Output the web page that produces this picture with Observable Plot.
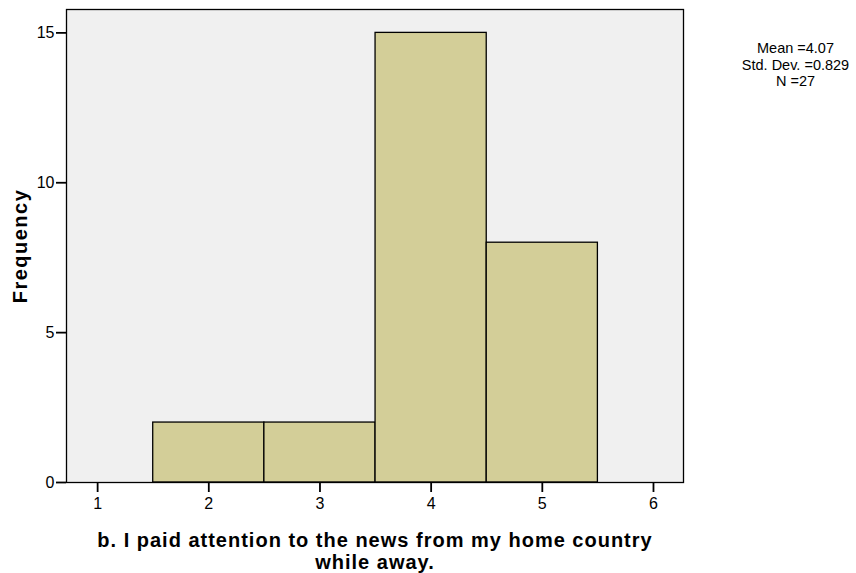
<!DOCTYPE html>
<html>
<head>
<meta charset="utf-8">
<script src="https://cdn.jsdelivr.net/npm/d3@7"></script>
<script src="https://cdn.jsdelivr.net/npm/@observablehq/plot@0.6"></script>
<style>
  html, body { margin: 0; padding: 0; background: #fff; }
  svg { font-family: "Liberation Sans", Arial, sans-serif; }
</style>
</head>
<body>
<div id="chart"></div>
<script>
const binStart = [1.5, 2.5, 3.5, 4.5];
const binEnd = [2.5, 3.5, 4.5, 5.5];
const frequency = [2, 2, 15, 8];
const xTicks = [1, 2, 3, 4, 5, 6];
const yTicks = [0, 5, 10, 15];
const statsText = ["Mean =4.07", "Std. Dev. =0.829", "N =27"];
const xTitle = ["b. I paid attention to the news from my home country", "while away."];
const yTitle = "Frequency";

const bars = binStart.map((s, i) => ({x1: s, x2: binEnd[i], y: frequency[i]}));

const chart = Plot.plot({
  width: 856,
  height: 573,
  marginLeft: 66,
  marginRight: 173,
  marginTop: 9,
  marginBottom: 91,
  style: {fontFamily: "'Liberation Sans', Arial, sans-serif", background: "#fff", fontSize: "15px"},
  x: {domain: [0.72, 6.27]},
  y: {domain: [0, 15.78]},
  marks: [
    Plot.frame({fill: "#f0f0f0"}),
    Plot.rectY(bars, {x1: "x1", x2: "x2", y: "y", fill: "#d3ce98", stroke: "#000", strokeWidth: 1.3}),
    Plot.frame({stroke: "#000", strokeWidth: 1.3}),
    Plot.axisX({ticks: xTicks, tickFormat: d3.format("d"), tickSize: 10, tickPadding: 5, fontSize: 16, stroke: "#000", strokeWidth: 1.8, label: null, fill: "#000", className: "xaxis"}),
    Plot.axisY({ticks: yTicks, tickFormat: d3.format("d"), tickSize: 10, tickPadding: 2, fontSize: 16, stroke: "#000", strokeWidth: 1.8, label: null, fill: "#000", className: "yaxis"}),
    Plot.text([yTitle], {text: d => d, frameAnchor: "left", dx: -46, rotate: -90, textAnchor: "middle", fontSize: 20, fontWeight: "bold", fill: "#000", className: "ytitle"}),
    Plot.text([xTitle.join("\n")], {text: d => d, frameAnchor: "bottom", dy: 86, textAnchor: "middle", fontSize: 20, fontWeight: "bold", lineHeight: 1.1, fill: "#000", className: "xtitle"}),
    Plot.text([statsText.join("\n")], {text: d => d, frameAnchor: "top-right", dx: 112, dy: 31, textAnchor: "middle", fontSize: 14.5, lineHeight: 1.17, fill: "#000"})
  ]
});
document.getElementById("chart").appendChild(chart);
d3.select(chart).selectAll(".xtitle text").style("letter-spacing", "1px");
d3.select(chart).selectAll(".ytitle text").style("letter-spacing", "1.5px");
d3.select(chart).selectAll(".xaxis text, .yaxis text").style("font-size", "16px");
</script>
</body>
</html>
